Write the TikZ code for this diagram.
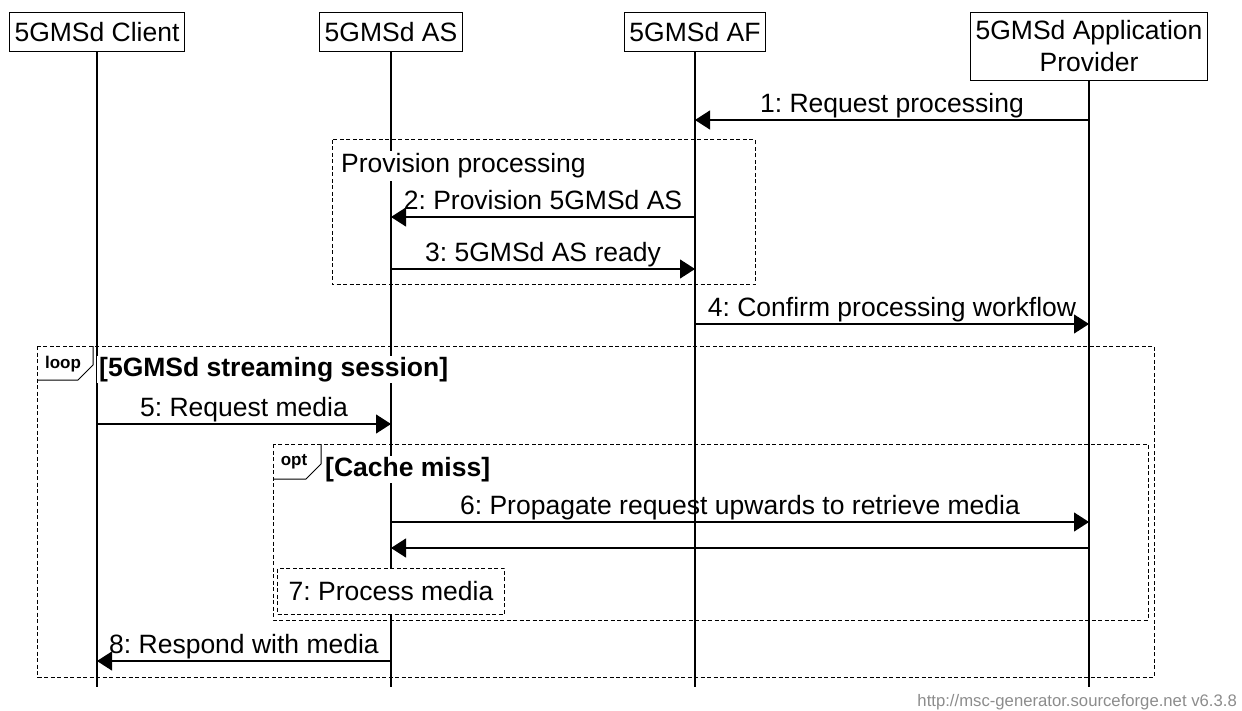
\documentclass[tikz,border=0pt]{standalone}
\usepackage{fontspec}
\setmainfont{Liberation Sans}
\frenchspacing
\usetikzlibrary{positioning}
\usetikzlibrary{arrows.meta}

\begin{document}
\begin{tikzpicture}[x=1pt,y=-1pt,>={Triangle[length=15pt,width=19pt]},
                    font=\fontsize{26.5}{32}\selectfont]
  \tikzstyle{head}=[draw,line width=1pt,anchor=north,inner xsep=5pt,inner ysep=3pt,
                    minimum height=39pt,align=center]
  \tikzstyle{life}=[line width=1.2pt]
  \tikzstyle{msg}=[->,line width=1.2pt]
  \tikzstyle{txt}=[above,inner sep=1pt,text depth=6pt]
  \tikzstyle{frame}=[draw,line width=1pt,dash pattern=on 4pt off 2.5pt]
  \tikzstyle{tagline}=[line width=1pt]
  \tikzstyle{tagtext}=[font=\fontsize{17}{19}\selectfont\bfseries,inner sep=0pt]
  \tikzstyle{frametitle}=[font=\fontsize{26.5}{30}\selectfont\bfseries,anchor=base west,
                          fill=white,inner xsep=2pt,inner ysep=1pt,text depth=6pt]

  \useasboundingbox (0,0) rectangle (1242,711);

  \node[head] (C) at (97,12)   {5GMSd Client};
  \node[head] (S) at (391,12)  {5GMSd AS};
  \node[head] (F) at (695,12)  {5GMSd AF};
  \node[head,minimum height=68pt] (P) at (1089,12) {5GMSd Application\\Provider};

  \coordinate (bottom) at (0,687);
  \coordinate (m1) at (0,120);
  \coordinate (m2) at (0,217);
  \coordinate (m3) at (0,269);
  \coordinate (m4) at (0,324);
  \coordinate (m5) at (0,424);
  \coordinate (m6) at (0,522);
  \coordinate (m6r) at (0,548);
  \coordinate (m8) at (0,661);

  % frames
  \coordinate (PA) at (332,140);
  \coordinate (PB) at (755,285);
  \coordinate (LA) at (37,346);
  \coordinate (LB) at (1154,677);
  \coordinate (OA) at (273,444);
  \coordinate (OB) at (1148,620);

  \draw[frame] (PA) rectangle (PB);
  \draw[frame] (LA) rectangle (LB);
  \draw[frame] (OA) rectangle (OB);

  % lifelines
  \draw[life] (C) -- (C |- bottom);
  \draw[life] (S) -- (S |- bottom);
  \draw[life] (F) -- (F |- bottom);
  \draw[life] (P) -- (P |- bottom);

  \node[anchor=base west,fill=white,inner xsep=2pt,inner ysep=3pt] (prov) at (339,173) {Provision processing};
  \node[frametitle] (loopt) at (97,376) {[5GMSd streaming session]};
  \node[frametitle] (optt) at (323,476) {[Cache miss]};

  \draw[tagline] (LA |- 0,380) -- (78,380) -- (93,365) -- (93,346);
  \node[tagtext] (loop) at (63,364) {loop};
  \draw[tagline] (OA |- 0,479) -- (306,479) -- (321,464) -- (321,444);
  \node[tagtext] (opt) at (294,462) {opt};

  % messages
  \draw[msg] (P |- m1) -- node[txt] {1: Request processing} (F |- m1);
  \draw[msg] (F |- m2) -- node[txt] {2: Provision 5GMSd AS} (S |- m2);
  \draw[msg] (S |- m3) -- node[txt] {3: 5GMSd AS ready} (F |- m3);
  \draw[msg] (F |- m4) -- node[txt] {4: Confirm processing workflow} (P |- m4);
  \draw[msg] (C |- m5) -- node[txt] {5: Request media} (S |- m5);
  \draw[msg] (S |- m6) -- node[txt] {6: Propagate request upwards to retrieve media} (P |- m6);
  \draw[msg] (P |- m6r) -- (S |- m6r);
  \node[frame,fill=white,minimum width=227pt,minimum height=46pt] (proc) at (S |- 0,591) {7: Process media};
  \draw[msg] (S |- m8) -- node[txt] {8: Respond with media} (C |- m8);

  \node[anchor=base east,inner sep=0pt,text=black!45,font=\fontsize{16.7}{18}\selectfont] (url)
       at (1237,706) {http://msc-generator.sourceforge.net v6.3.8};

\end{tikzpicture}
\end{document}
